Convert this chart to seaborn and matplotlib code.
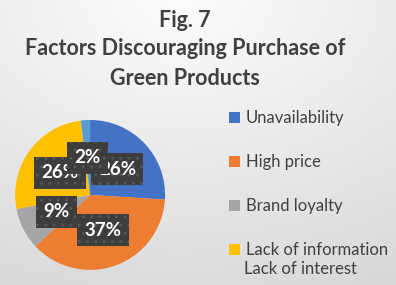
import numpy as np
import matplotlib
matplotlib.use("Agg")
import matplotlib.pyplot as plt
import seaborn as sns
from matplotlib.patches import Patch

sns.set_theme(style="white")
plt.rcParams['font.family'] = ['Lato', 'DejaVu Sans']

categories = ["Unavailability", "High price", "Brand loyalty", "Lack of information", "Lack of interest"]
values = [26, 37, 9, 26, 2]
colors = ["#4472C4", "#ED7D31", "#A5A5A5", "#FFC000", "#5B9BD5"]
title_lines = ["Fig. 7", "Factors Discouraging Purchase of", "Green Products"]

W, H = 396, 285
fig = plt.figure(figsize=(W / 100, H / 100), dpi=100)

# background gradient
bg = fig.add_axes([0, 0, 1, 1], zorder=-10)
yy, xx = np.mgrid[0:1:200j, 0:1:300j]
d = np.sqrt(((xx - 0.45) * 1.0) ** 2 + (yy * 1.1) ** 2)
g = 0.99 - 0.14 * np.clip(d, 0, 1.2) / 1.2
bg.imshow(np.dstack([g, g, g]), aspect='auto', extent=[0, 1, 0, 1], origin='upper')
bg.axis('off')

ax = fig.add_axes([0.038, 0.053, 0.379, 0.526])
wedges, texts, autotexts = ax.pie(
    values, colors=colors, startangle=90, counterclock=False,
    autopct=lambda p: f"{p:.0f}%", pctdistance=0.5,
    wedgeprops=dict(linewidth=0),
    textprops=dict(color="white", fontsize=13.5, fontweight="bold"))
for t in autotexts:
    t.set_bbox(dict(boxstyle="square,pad=0.4", facecolor="#3d3d3d",
                    edgecolor="#565656", hatch="..", linewidth=0.0))
ax.set_xlim(-1, 1)
ax.set_ylim(-1, 1)
ax.set_aspect('equal')

tc = "#404040"
fs_title = 15.5
fig.text(0.467, 0.928, title_lines[0], ha='center', va='center', fontsize=fs_title, fontweight='bold', color=tc)
fig.text(0.467, 0.83, title_lines[1], ha='center', va='center', fontsize=fs_title, fontweight='bold', color=tc)
fig.text(0.467, 0.725, title_lines[2], ha='center', va='center', fontsize=fs_title, fontweight='bold', color=tc)

handles = [Patch(facecolor=c, edgecolor='none') for c in colors[:4]]
leg = fig.legend(handles, categories[:4], loc='upper left', bbox_to_anchor=(0.557, 0.642),
                 frameon=False, fontsize=12, labelcolor=tc, labelspacing=1.68,
                 handlelength=0.68, handleheight=0.68, handletextpad=0.32, borderpad=0)
fig.text(0.617, 0.056, categories[4], ha='left', va='center', fontsize=12, color=tc)

fig.savefig("out.png", dpi=100)
